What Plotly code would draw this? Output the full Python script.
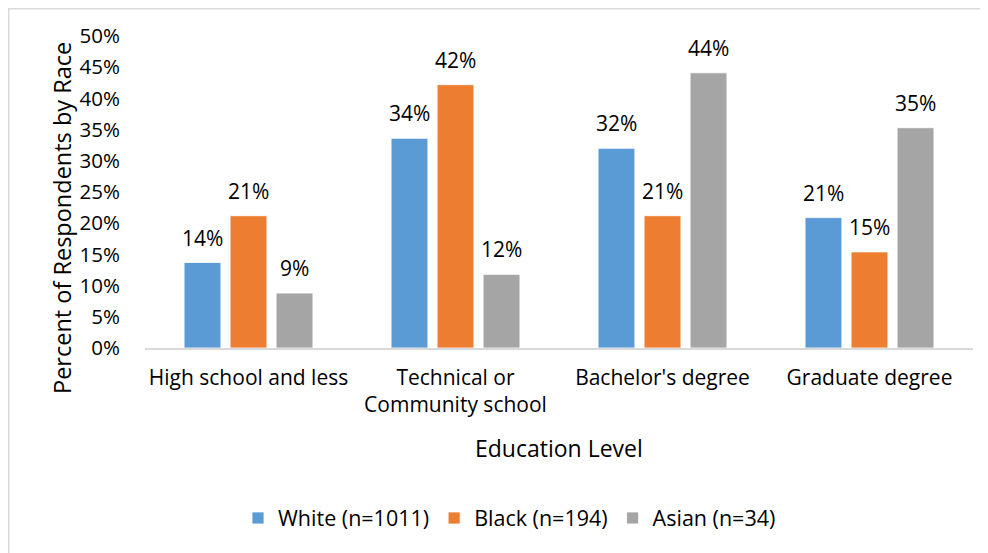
import plotly.graph_objects as go

# ---- data ----
categories = ["High school and less", "Technical or<br>Community school",
              "Bachelor's degree", "Graduate degree"]
white_pct = [13.7, 33.6, 32.0, 20.9]
black_pct = [21.2, 42.2, 21.2, 15.4]
asian_pct = [8.8, 11.8, 44.1, 35.3]
series_names = ["White (n=1011)", "Black (n=194)", "Asian (n=34)"]
colors = ["#5b9bd5", "#ed7d31", "#a5a5a5"]
y_ticks = list(range(0, 51, 5))

FONT = "'Open Sans', sans-serif"

# page has an 8px body margin, so the figure is 8px smaller than the window
W, H = 980, 545
L, R, T, B = 137, 15, 28, 205
PW, PH = W - L - R, H - T - B
SLOT = PW / 4 * (1 - 0.333) / 3  # px per bar slot inside a group

fig = go.Figure()
annotations = []
for i, (name, vals, col) in enumerate(zip(series_names, [white_pct, black_pct, asian_pct], colors)):
    fig.add_trace(
        go.Bar(
            x=categories,
            y=vals,
            name=name,
            marker=dict(color=col, line=dict(color="white", width=0.8)),
        )
    )
    for cat, v in zip(categories, vals):
        annotations.append(
            dict(x=cat, y=v, xref="x", yref="y", text=f"{v:.0f}%", showarrow=False,
                 xanchor="center", yanchor="bottom", xshift=(i - 1) * SLOT, yshift=9,
                 font=dict(size=21, color="#000000"))
        )

annotations += [
    dict(text="Percent of Respondents by Race", xref="paper", yref="paper",
         x=(54 - L) / PW, y=(PH + T - 210) / PH, textangle=-90, showarrow=False,
         font=dict(size=23.5), xanchor="center", yanchor="middle"),
    dict(text="Education Level", xref="paper", yref="paper",
         x=0.5, y=(PH - 440 + T) / PH, showarrow=False,
         font=dict(size=23), xanchor="center", yanchor="middle"),
]

fig.update_layout(
    width=W,
    height=H,
    margin=dict(l=L, r=R, t=T, b=B),
    paper_bgcolor="white",
    plot_bgcolor="white",
    font=dict(family=FONT, size=21, color="#000000"),
    barmode="group",
    bargap=0.333,
    bargroupgap=0.2,
    showlegend=True,
    legend=dict(
        orientation="h",
        x=(501.5 - L) / PW,
        xanchor="center",
        y=(PH + T - 510) / PH,
        yanchor="middle",
        font=dict(size=21.5),
        itemwidth=30,
    ),
    xaxis=dict(
        showgrid=False,
        showline=True,
        linecolor="#d9d9d9",
        linewidth=1.5,
        ticks="",
        ticklabelstandoff=10,
        tickfont=dict(size=21),
    ),
    yaxis=dict(
        range=[0, 50],
        tickvals=y_ticks,
        ticktext=[f"{v}%" for v in y_ticks],
        showgrid=False,
        zeroline=False,
        showline=False,
        ticks="outside",
        ticklen=20,
        tickcolor="rgba(0,0,0,0)",
        tickfont=dict(size=20.5),
    ),
    annotations=annotations,
    shapes=[
        dict(type="rect", xref="paper", yref="paper",
             x0=(0.75 - L) / PW, x1=1.05, y0=-0.8, y1=(PH + T - 0.75) / PH,
             line=dict(color="#d9d9d9", width=1.5), layer="below"),
    ],
)

fig.write_html("out.html")
